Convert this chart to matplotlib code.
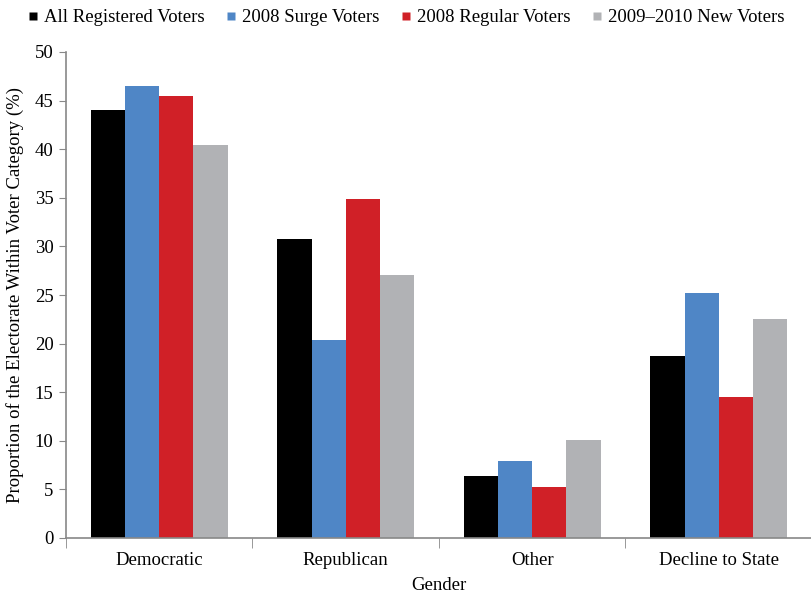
import matplotlib
matplotlib.use("Agg")
import matplotlib.pyplot as plt
import numpy as np
from matplotlib.lines import Line2D

categories = ["Democratic", "Republican", "Other", "Decline to State"]
series_names = ["All Registered Voters", "2008 Surge Voters",
                "2008 Regular Voters", "2009\u20132010 New Voters"]
all_registered = [44.0, 30.8, 6.4, 18.7]
surge_2008 = [46.5, 20.4, 7.9, 25.2]
regular_2008 = [45.5, 34.9, 5.2, 14.5]
new_2009_2010 = [40.4, 27.1, 10.1, 22.5]
colors = ["#000000", "#4f86c6", "#d02027", "#b1b2b5"]
yticks = [0, 5, 10, 15, 20, 25, 30, 35, 40, 45, 50]

plt.rcParams['font.family'] = ['Liberation Serif', 'DejaVu Serif']

fig = plt.figure(figsize=(8.12, 5.96), dpi=100)
ax = fig.add_axes([66/812, 58/596, 1 - 66/812, (538-52)/596])

data = [all_registered, surge_2008, regular_2008, new_2009_2010]
x = np.arange(len(categories))
w = 0.183
for i, (vals, c) in enumerate(zip(data, colors)):
    ax.bar(x + (i - 1.5) * w, vals, width=w, color=c, linewidth=0)

ax.set_xlim(-0.5, len(categories) - 0.5)
ax.set_ylim(0, 50)
ax.set_yticks(yticks)
ax.set_xticks(x)
ax.set_xticklabels(categories)
ax.set_xticks(np.arange(len(categories) + 1) - 0.5, minor=True)
ax.tick_params(axis='x', which='major', length=0, pad=10, labelsize=13.5)
ax.tick_params(axis='x', which='minor', length=7, color='#888888', direction='out')
ax.tick_params(axis='y', length=5, color='#888888', labelsize=13.5, pad=4)
for s in ['top', 'right']:
    ax.spines[s].set_visible(False)
for s in ['left', 'bottom']:
    ax.spines[s].set_color('#888888')
    ax.spines[s].set_linewidth(1.2)

ax.set_ylabel("Proportion of the Electorate Within Voter Category (%)", fontsize=13.5, labelpad=8)
ax.set_xlabel("Gender", fontsize=13.5, labelpad=6)

handles = [Line2D([0], [0], marker='s', color='none', markerfacecolor=c,
                  markeredgecolor='none', markersize=6) for c in colors]
fig.legend(handles, series_names, loc='upper left', bbox_to_anchor=(0.022, 1.0),
           ncol=4, frameon=False, fontsize=13.5, handlelength=0.6,
           handletextpad=0.3, columnspacing=1.1, borderaxespad=0.1)

fig.savefig("out.png", dpi=100)
